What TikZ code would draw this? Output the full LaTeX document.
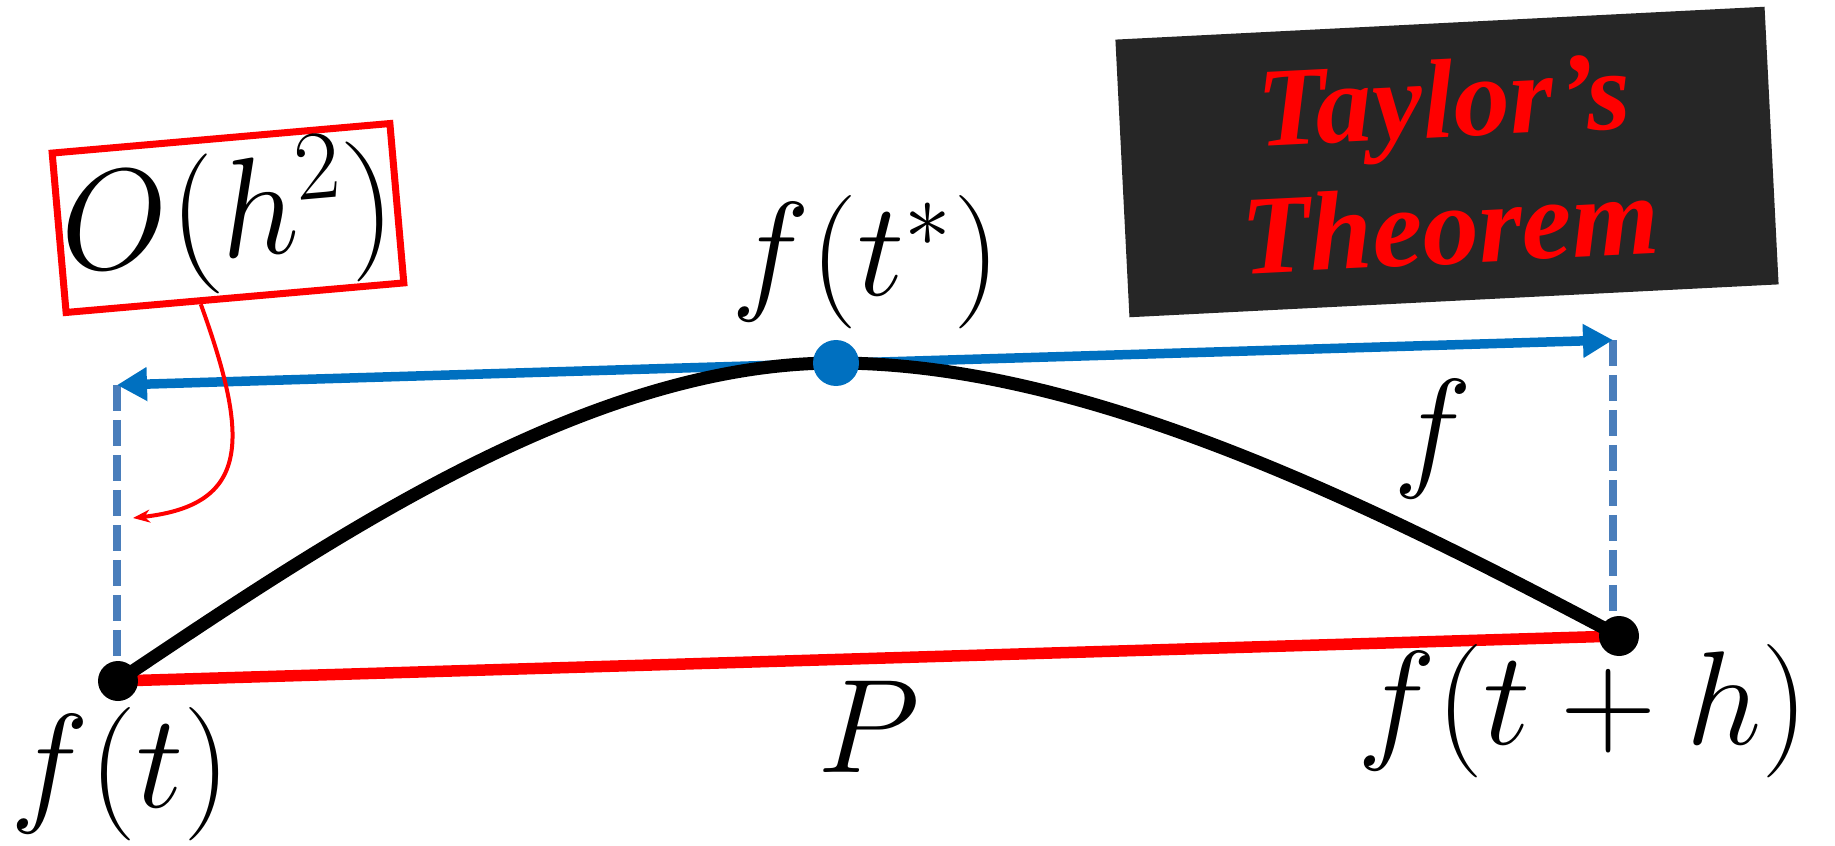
\RequirePackage{fix-cm}
\documentclass[tikz,border=0pt]{standalone}
\usepackage{fontspec}
\usetikzlibrary{arrows.meta, positioning, calc, backgrounds}
\newfontfamily\taylorfont{Liberation Serif}
\definecolor{tyBlue}{HTML}{0070C0}
\definecolor{tyDash}{HTML}{4A7EBB}
\definecolor{tyRed}{HTML}{FF0000}
\definecolor{tyDark}{HTML}{262626}

\begin{document}
\begin{tikzpicture}[
  dot/.style={circle, fill=black, inner sep=0pt, minimum size=0.40cm},
  bdot/.style={circle, fill=tyBlue, inner sep=0pt, minimum size=0.46cm},
  lbl/.style={inner sep=0pt, font=\fontsize{38}{40}\selectfont},
  guide/.style={tyDash, line width=0.08cm, dash pattern=on 0.26cm off 0.09cm},
  span/.style={{Triangle[length=0.30cm, width=0.32cm]}-{Triangle[length=0.30cm, width=0.32cm]}, tyBlue, line width=0.095cm},
  fcurve/.style={black, line width=0.13cm},
  chord/.style={tyRed, line width=0.115cm},
  err/.style={draw=tyRed, line width=0.07cm, rotate=5, minimum width=3.39cm, minimum height=1.60cm, inner sep=0pt, font=\fontsize{40}{42}\selectfont},
  banner/.style={fill=tyDark, text=tyRed, rotate=2.9, minimum width=6.50cm, minimum height=2.78cm, align=center, font=\taylorfont\bfseries\itshape\fontsize{32}{36}\selectfont}]
  \useasboundingbox (0,0) rectangle (18.35,8.45);
  \node[dot] (ft) at (1.18,1.64) {};
  \node[bdot] (ts) at (8.36,4.82) {};
  \node[dot] (fth) at (16.19,2.09) {};
  \coordinate (lt) at (1.17,4.60);
  \coordinate (rt) at (16.13,5.05);
  \coordinate (ohend) at (1.33,3.27);
  \node[lbl, below=0.05cm of ft, xshift=0.03cm] (lft) {$f(t)$};
  \node[lbl, above=0.10cm of ts, xshift=0.30cm] (lts) {$f(t^*)$};
  \node[lbl, below=-0.13cm of fth, xshift=-0.36cm] (lfth) {$f(t+h)$};
  \node[lbl] (lp) at ($(ft)!0.5!(fth)+(0,-0.68)$) {$P$};
  \node[lbl] (lf) at (14.33,4.06) {$f$};
  \node[err] (oh) at (2.28,6.27) {$O(h^2)$};
  \node[banner] (tt) at (14.47,6.83) {Taylor’s\\Theorem};
  \begin{scope}[on background layer]
    \draw[guide] (lt) -- (lt |- ft.north);
    \draw[guide] (rt) -- (rt |- fth.north);
    \draw[span] (lt) -- (rt);
    \draw[chord] (ft.center) -- (fth.center);
    \draw[fcurve] (ft.center) .. controls (3.26,3.03) and (5.86,4.82) .. (ts.center)
      .. controls (10.86,4.82) and (13.72,3.40) .. (fth.center);
  \end{scope}
  \draw[tyRed, line width=0.04cm, -{Stealth[length=0.17cm, width=0.13cm]}]
    ($(oh.south west)!0.4!(oh.south east)$) .. controls (2.50,4.05) and (2.50,3.40) .. (ohend);
\end{tikzpicture}
\end{document}
